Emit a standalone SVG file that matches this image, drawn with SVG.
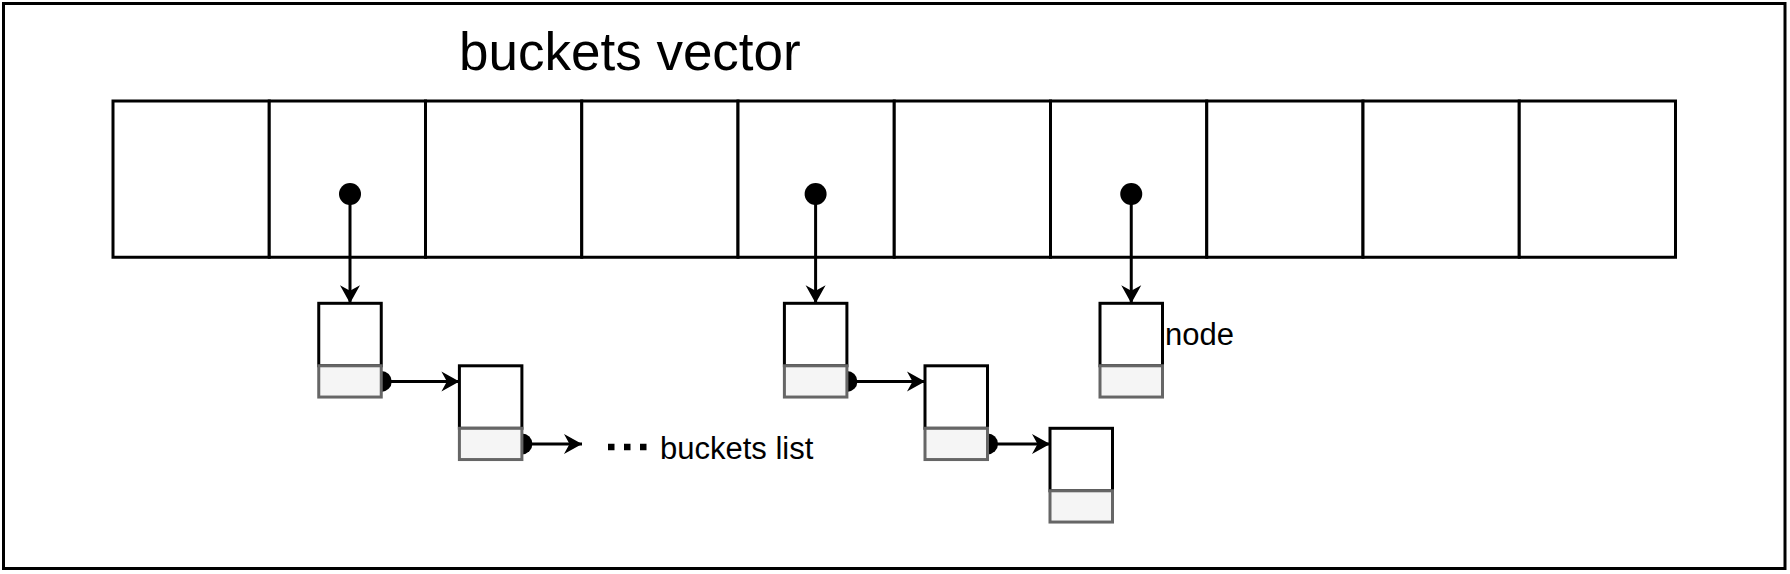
<svg xmlns="http://www.w3.org/2000/svg" width="1790" height="574" viewBox="0 0 1790 574">
<defs>
<style>
.cell{fill:#fff;stroke:#000;stroke-width:3}
.top{fill:#fff;stroke:#000;stroke-width:3}
.bot{fill:#f5f5f5;stroke:#666;stroke-width:3}
.edge{fill:none;stroke:#000;stroke-width:3}
.lbl{font-family:"Liberation Sans",Arial,sans-serif;fill:#000}
</style>
<marker id="arr" viewBox="0 0 19 21" refX="18" refY="10.5" markerWidth="19" markerHeight="21" markerUnits="userSpaceOnUse" orient="auto">
<path d="M18,10.5 L0,0.5 L5.5,10.5 L0,20.5 Z" fill="#000"/>
</marker>
</defs>
<rect id="frame" x="3.5" y="3.5" width="1781.5" height="565" fill="#fff" stroke="#000" stroke-width="3"/>
<text class="lbl" x="459" y="70" font-size="53">buckets vector</text>
<g id="buckets">
<rect class="cell" x="113" y="101" width="156.25" height="156.25"/>
<rect class="cell" x="269.25" y="101" width="156.25" height="156.25"/>
<rect class="cell" x="425.5" y="101" width="156.25" height="156.25"/>
<rect class="cell" x="581.75" y="101" width="156.25" height="156.25"/>
<rect class="cell" x="738" y="101" width="156.25" height="156.25"/>
<rect class="cell" x="894.25" y="101" width="156.25" height="156.25"/>
<rect class="cell" x="1050.5" y="101" width="156.25" height="156.25"/>
<rect class="cell" x="1206.75" y="101" width="156.25" height="156.25"/>
<rect class="cell" x="1363" y="101" width="156.25" height="156.25"/>
<rect class="cell" x="1519.25" y="101" width="156.25" height="156.25"/>
</g>
<g id="connectors">
<circle cx="350" cy="194" r="11" fill="#000"/>
<path class="edge" d="M350,194 V303.3" marker-end="url(#arr)"/>
<circle cx="815.6" cy="194" r="11" fill="#000"/>
<path class="edge" d="M815.6,194 V303.3" marker-end="url(#arr)"/>
<circle cx="1131.25" cy="194" r="11" fill="#000"/>
<path class="edge" d="M1131.25,194 V303.3" marker-end="url(#arr)"/>
<circle cx="381.25" cy="381.4" r="10.5" fill="#000"/>
<path class="edge" d="M381.25,381.4 H459.4" marker-end="url(#arr)"/>
<circle cx="521.9" cy="443.9" r="10.5" fill="#000"/>
<path class="edge" d="M521.9,443.9 H582" marker-end="url(#arr)"/>
<circle cx="846.9" cy="381.4" r="10.5" fill="#000"/>
<path class="edge" d="M846.9,381.4 H925" marker-end="url(#arr)"/>
<circle cx="987.5" cy="443.9" r="10.5" fill="#000"/>
<path class="edge" d="M987.5,443.9 H1050" marker-end="url(#arr)"/>
</g>
<g id="node1"><rect class="top" x="318.75" y="303.3" width="62.5" height="62.5"/><rect class="bot" x="318.75" y="365.8" width="62.5" height="31.25"/></g>
<g id="node2"><rect class="top" x="459.4" y="365.8" width="62.5" height="62.5"/><rect class="bot" x="459.4" y="428.3" width="62.5" height="31.25"/></g>
<g id="node3"><rect class="top" x="784.4" y="303.3" width="62.5" height="62.5"/><rect class="bot" x="784.4" y="365.8" width="62.5" height="31.25"/></g>
<g id="node4"><rect class="top" x="925" y="365.8" width="62.5" height="62.5"/><rect class="bot" x="925" y="428.3" width="62.5" height="31.25"/></g>
<g id="node5"><rect class="top" x="1050" y="428.3" width="62.5" height="62.5"/><rect class="bot" x="1050" y="490.8" width="62.5" height="31.25"/></g>
<g id="node6"><rect class="top" x="1100" y="303.3" width="62.5" height="62.5"/><rect class="bot" x="1100" y="365.8" width="62.5" height="31.25"/></g>
<text class="lbl" x="1165" y="345" font-size="31">node</text>
<g id="more">
<line x1="608" y1="447" x2="650" y2="447" stroke="#000" stroke-width="6.5" stroke-dasharray="6.5 9.5"/>
<text class="lbl" x="660" y="459" font-size="31">buckets list</text>
</g>
</svg>
